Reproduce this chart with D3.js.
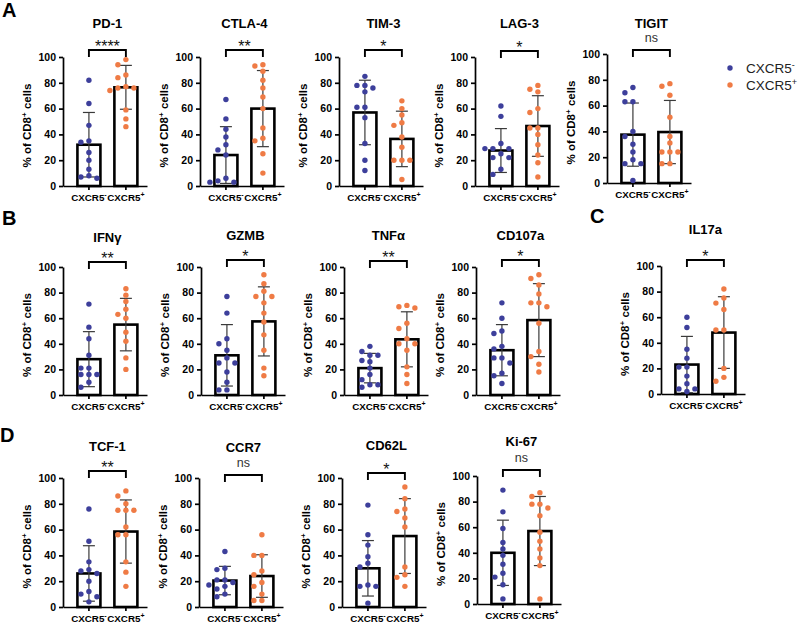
<!DOCTYPE html>
<html><head><meta charset="utf-8">
<script src="https://cdn.jsdelivr.net/npm/d3@7"></script>
<style>body{margin:0;background:#fff}svg{display:block}text{font-family:"Liberation Sans",Arial,sans-serif}</style>
</head><body><svg id="c" width="800" height="623"></svg>
<script>
// ---------- data ----------
const markers = ["PD-1","CTLA-4","TIM-3","LAG-3","TIGIT","IFNγ","GZMB","TNFα","CD107a","IL17a","TCF-1","CCR7","CD62L","Ki-67"];
const groups = ["CXCR5-","CXCR5+"];
const significance = ["****","**","*","*","ns","**","*","**","*","*","**","ns","*","ns"];
const yTicks = [0,20,40,60,80,100];
const negMean = [32,24,57,27.5,37.5,28,31,21,35,23,26,20.5,30,40];
const negSD   = [25,22,25,17,24.5,21.5,24,11.5,20,22,21.5,11,21.5,25.5];
const posMean = [76.5,60,36.5,46.5,39.5,55,57.5,43.5,58.5,48,58.5,24,55,57];
const posSD   = [17,29.5,21.5,23.5,24.5,20.5,27,21.5,28.5,28,24.5,16.5,29,27];
const negPoints = [
  [82,64,47,35,34,26,20,13,8,7,6],
  [67,52,44,38,32,28,24,6,4,3,3],
  [85,78,78,76,73,61,61,53,33,20,12],
  [62,54,33,29,29,29,25,22,22,13,9],
  [74,70,63,63,40,36,30,24,18,15,15,2],
  [71,53,44,31,21,21,16,16,16,10,6],
  [77,64,44,40,35,29,25,25,18,10,4,4],
  [38,34,31,31,27,26,21,16,12,8,8,6],
  [72,60,50,48,38,36,29,29,25,17,15,9],
  [60,52,35,28,21,21,14,8,4,4,2],
  [76,51,35,29,28,26,20,12,10,8,4],
  [43,30,29,21,21,19,17,16,14,10,8],
  [79,56,48,39,34,31,17,16,16,3],
  [89,72,59,48,43,38,31,24,21,15,4]
];
const posPoints = [
  [98,94,86,84,77,76,76,74,59,52,46],
  [94,93,89,82,76,69,60,45,37,35,25,10],
  [66,60,55,49,47,38,30,20,20,20,5],
  [78,75,73,60,57,45,45,40,32,24,18,7],
  [77,75,68,51,36,31,24,24,24,15,15],
  [83,78,73,67,63,60,49,42,29,20],
  [94,87,81,77,77,72,64,57,47,35,21,15],
  [70,69,68,56,52,44,40,40,35,22,16,9],
  [94,91,86,79,72,72,69,56,34,30,24,18],
  [82,75,71,66,50,50,20,13,10],
  [90,86,80,75,75,75,62,56,56,35,27,16],
  [56,40,40,28,25,19,16,10,5,5],
  [93,84,76,74,69,62,31,25,23,16],
  [87,84,78,78,75,69,56,49,43,36,30,4]
];
const legendLabels = ["CXCR5-","CXCR5+"];
const panelLetters = ["A","B","C","D"];

// ---------- layout / style ----------
const layout = [
  {x0:63, top:57, bottom:186, titleY:23, brY:50},
  {x0:200,top:57, bottom:186, titleY:23, brY:50},
  {x0:339,top:57, bottom:186, titleY:23, brY:50},
  {x0:475,top:57, bottom:186, titleY:23, brY:51},
  {x0:607,top:54, bottom:183, titleY:23, brY:50},
  {x0:63, top:267,bottom:395, titleY:237,brY:262},
  {x0:201,top:267,bottom:395, titleY:235,brY:260},
  {x0:344,top:267,bottom:395, titleY:235,brY:261},
  {x0:476,top:267,bottom:395, titleY:235,brY:260},
  {x0:661,top:266,bottom:394, titleY:229,brY:260},
  {x0:63, top:478,bottom:607, titleY:446,brY:471},
  {x0:199,top:478,bottom:607, titleY:447,brY:475},
  {x0:342,top:478,bottom:607, titleY:445,brY:473},
  {x0:477,top:476,bottom:604, titleY:441,brY:470}
];
const letterPos = [[2,17],[2,225],[590,223],[0,442]];
const colors = {"CXCR5-":"#3d3f9b","CXCR5+":"#ef7b45"};
const R = 2.7, STEP = 8, AXW = 84;
const FONT = "'Liberation Sans',Arial,sans-serif";

const svg = d3.select("#c");

function swarm(vals, y){
  const pts = vals.map(v=>({v, py:y(v)})).sort((a,b)=>a.py-b.py);
  const placed=[];
  const cands=[0,-STEP,STEP,-2*STEP,2*STEP];
  for(const p of pts){
    p.dx = 0;
    for(const dx of cands){
      if(placed.every(q=>Math.abs(q.py-p.py)>=2*R+0.6 || q.dx!==dx)){p.dx=dx;break;}
    }
    placed.push(p);
  }
  return pts;
}

function supLabel(sel, base, sup, supDy, supSize){
  sel.text(null);
  sel.append("tspan").text(base);
  sel.append("tspan").attr("dy",supDy).attr("font-size",supSize).text(sup);
}

markers.forEach((m,i)=>{
  const L = layout[i];
  const g = svg.append("g");
  const x = d3.scaleBand().domain(groups).range([L.x0, L.x0+AXW])
      .paddingInner(0.378).paddingOuter(0.325).align(0.6);
  const y = d3.scaleLinear().domain([0,100]).range([L.bottom, L.top]);
  const means = [negMean[i], posMean[i]];
  const sds = [negSD[i], posSD[i]];
  const pts = [negPoints[i], posPoints[i]];
  const cxOf = grp => x(grp)+x.bandwidth()/2;

  // bars
  groups.forEach((grp,k)=>{
    g.append("rect")
      .attr("x", x(grp)).attr("width", x.bandwidth())
      .attr("y", y(means[k])).attr("height", y(0)-y(means[k]))
      .attr("fill","#fff").attr("stroke","#000").attr("stroke-width",2.6);
  });

  // axes
  const ya = g.append("g").attr("transform",`translate(${L.x0},0)`)
    .call(d3.axisLeft(y).tickValues(yTicks).tickSize(4).tickSizeOuter(0));
  ya.selectAll("text").attr("font-size",10.5).attr("font-weight","bold").attr("fill","#000")
    .attr("font-family",FONT);
  const xa = g.append("g").attr("transform",`translate(0,${L.bottom})`)
    .call(d3.axisBottom(x).tickSize(4).tickSizeOuter(0));
  xa.selectAll(".tick").attr("transform", d=>`translate(${cxOf(d)},0)`);
  xa.selectAll("text").attr("font-size",9.8).attr("font-weight","bold").attr("fill","#000")
    .attr("font-family",FONT).attr("y",8)
    .each(function(d){ supLabel(d3.select(this),"CXCR5", d.endsWith("+")?"+":"-", -4, 7); });
  [ya,xa].forEach(a=>{a.selectAll("path,line").attr("stroke","#000").attr("stroke-width",1.7);});

  // error bars
  groups.forEach((grp,k)=>{
    const cx = cxOf(grp);
    const lo = Math.max(0, means[k]-sds[k]), hi = means[k]+sds[k];
    g.append("line").attr("x1",cx).attr("x2",cx).attr("y1",y(lo)).attr("y2",y(hi))
      .attr("stroke","#3a3a3a").attr("stroke-width",1.2);
    [lo,hi].forEach(v=>{
      g.append("line").attr("x1",cx-6).attr("x2",cx+6).attr("y1",y(v)).attr("y2",y(v))
        .attr("stroke","#3a3a3a").attr("stroke-width",1.2);
    });
  });

  // points
  groups.forEach((grp,k)=>{
    const cx = cxOf(grp);
    g.selectAll(null).data(swarm(pts[k], y)).enter().append("circle")
      .attr("cx", d=>cx+d.dx).attr("cy", d=>d.py).attr("r",R).attr("fill",colors[grp]);
  });

  const c1 = cxOf(groups[0]), c2 = cxOf(groups[1]);
  // title
  g.append("text").attr("x",(c1+c2)/2).attr("y",L.titleY+4.6).attr("text-anchor","middle")
    .attr("font-size",13).attr("font-weight","bold").text(m);

  // bracket
  g.append("path").attr("d",`M${c1},${L.brY+7}V${L.brY}H${c2}V${L.brY+7}`)
    .attr("fill","none").attr("stroke","#000").attr("stroke-width",1.9);
  const s = significance[i];
  if(s==="ns"){
    g.append("text").attr("x",(c1+c2)/2).attr("y",L.brY-8).attr("text-anchor","middle")
      .attr("font-size",12.5).attr("fill","#333").text(s);
  } else {
    g.append("text").attr("x",(c1+c2)/2).attr("y",L.brY+1.5).attr("text-anchor","middle")
      .attr("font-size",16).attr("fill","#111").text(s);
  }

  // y label
  const yl = g.append("text").attr("transform",`translate(${L.x0-32},${(L.top+L.bottom)/2+4}) rotate(-90)`)
    .attr("text-anchor","middle").attr("font-size",11.5).attr("font-weight","bold");
  yl.append("tspan").text("% of CD8");
  yl.append("tspan").attr("dy",-4.5).attr("font-size",8).text("+");
  yl.append("tspan").attr("dy",4.5).text(" cells");
});

// panel letters
panelLetters.forEach((t,i)=>{
  svg.append("text").attr("x",letterPos[i][0]).attr("y",letterPos[i][1])
    .attr("font-size",20).attr("font-weight","bold").text(t);
});

// legend
legendLabels.forEach((lab,i)=>{
  const ly = 68 + i*17;
  svg.append("circle").attr("cx",730).attr("cy",ly).attr("r",R).attr("fill",colors[groups[i]]);
  const t = svg.append("text").attr("x",746).attr("y",ly+5).attr("font-size",13.5).attr("fill","#222");
  supLabel(t,"CXCR5", lab.endsWith("+")?"+":"-", -5, 9);
});
</script></body></html>
